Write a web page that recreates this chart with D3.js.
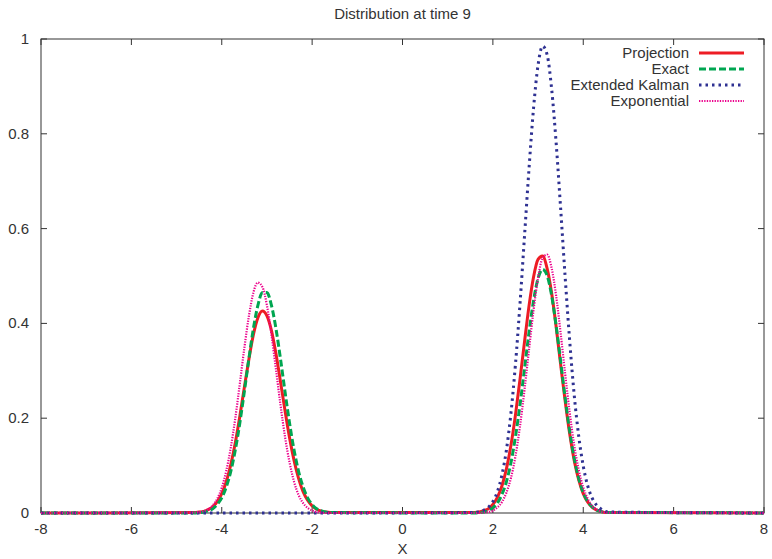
<!DOCTYPE html>
<html>
<head>
<meta charset="utf-8">
<script src="https://cdn.jsdelivr.net/npm/d3@7"></script>
<style>
  body { margin: 0; background: #fff; }
  text { font-family: "Liberation Sans", Arial, sans-serif; fill: #333; }
</style>
</head>
<body>
<div id="chart"></div>
<script>
// x grid around the two modes (step 0.1)
var xLeft = [-4.6, -4.5, -4.4, -4.3, -4.2, -4.1, -4.0, -3.9, -3.8, -3.7, -3.6, -3.5, -3.4, -3.3, -3.2, -3.1,
             -3.0, -2.9, -2.8, -2.7, -2.6, -2.5, -2.4, -2.3, -2.2, -2.1, -2.0, -1.9, -1.8, -1.7, -1.6];
var xRight = [1.6, 1.7, 1.8, 1.9, 2.0, 2.1, 2.2, 2.3, 2.4, 2.5, 2.6, 2.7, 2.8, 2.9, 3.0, 3.1,
              3.2, 3.3, 3.4, 3.5, 3.6, 3.7, 3.8, 3.9, 4.0, 4.1, 4.2, 4.3, 4.4, 4.5, 4.6];

var projLeft = [0.001, 0.002, 0.003, 0.007, 0.013, 0.024, 0.041, 0.066, 0.102, 0.148, 0.204, 0.265, 0.324, 0.376, 0.412, 0.426,
                0.416, 0.385, 0.336, 0.277, 0.216, 0.159, 0.111, 0.073, 0.045, 0.027, 0.015, 0.008, 0.004, 0.002, 0.001];
var projRight = [0.001, 0.002, 0.005, 0.009, 0.018, 0.033, 0.057, 0.093, 0.143, 0.207, 0.282, 0.361, 0.437, 0.498, 0.535, 0.542,
                 0.516, 0.464, 0.393, 0.313, 0.236, 0.167, 0.111, 0.070, 0.041, 0.023, 0.012, 0.006, 0.003, 0.001, 0.001];

var exactLeft = [0.000, 0.001, 0.002, 0.005, 0.009, 0.018, 0.032, 0.055, 0.088, 0.133, 0.190, 0.256, 0.325, 0.389, 0.438, 0.465,
                 0.465, 0.438, 0.389, 0.325, 0.256, 0.190, 0.133, 0.088, 0.055, 0.032, 0.018, 0.009, 0.005, 0.002, 0.001];
var exactRight = [0.000, 0.001, 0.002, 0.005, 0.011, 0.021, 0.039, 0.066, 0.106, 0.161, 0.228, 0.304, 0.381, 0.448, 0.495, 0.514,
                  0.501, 0.459, 0.395, 0.320, 0.243, 0.173, 0.116, 0.073, 0.043, 0.024, 0.013, 0.006, 0.003, 0.001, 0.001];

var ekfLeft = [0, 0, 0, 0, 0, 0, 0, 0, 0, 0, 0, 0, 0, 0, 0, 0,
               0, 0, 0, 0, 0, 0, 0, 0, 0, 0, 0, 0, 0, 0, 0];
var ekfRight = [0.001, 0.003, 0.006, 0.012, 0.024, 0.045, 0.080, 0.133, 0.211, 0.314, 0.441, 0.584, 0.727, 0.854, 0.945, 0.985,
                0.967, 0.895, 0.781, 0.642, 0.497, 0.363, 0.249, 0.162, 0.099, 0.057, 0.031, 0.016, 0.008, 0.003, 0.002];

var expoLeft = [0.001, 0.002, 0.004, 0.008, 0.016, 0.030, 0.053, 0.089, 0.138, 0.200, 0.273, 0.348, 0.415, 0.465, 0.486, 0.477,
                0.438, 0.376, 0.303, 0.228, 0.161, 0.107, 0.066, 0.038, 0.021, 0.011, 0.005, 0.002, 0.001, 0.000, 0.000];
var expoRight = [0.000, 0.000, 0.001, 0.002, 0.005, 0.012, 0.023, 0.043, 0.074, 0.120, 0.183, 0.260, 0.345, 0.428, 0.496, 0.538,
                 0.545, 0.517, 0.458, 0.379, 0.293, 0.212, 0.143, 0.091, 0.054, 0.030, 0.015, 0.007, 0.003, 0.001, 0.001];

var seriesNames = ["Projection", "Exact", "Extended Kalman", "Exponential"];
var xTicks = [-8, -6, -4, -2, 0, 2, 4, 6, 8];
var yTicks = [0, 0.2, 0.4, 0.6, 0.8, 1];

// styles for each series
var styles = [
  {color: "#ed1c24", width: 3, dash: null},
  {color: "#00a651", width: 3, dash: "7,3"},
  {color: "#2e3192", width: 3, dash: "2.5,4"},
  {color: "#ec008c", width: 2.2, dash: "1.3,1.3"}
];

var W = 772, H = 559;
var margin = {top: 39, right: 8, bottom: 46, left: 41},
    width = W - margin.left - margin.right,
    height = H - margin.top - margin.bottom;

var svg = d3.select("#chart").append("svg")
    .attr("width", W)
    .attr("height", H);

var g = svg.append("g")
    .attr("transform", "translate(" + margin.left + "," + margin.top + ")");

var x = d3.scaleLinear().domain([-8, 8]).range([0, width]);
var y = d3.scaleLinear().domain([0, 1]).range([height, 0]);

function buildSeries(left, right) {
  var pts = [[-8, 0]];
  xLeft.forEach(function(v, i) { pts.push([v, left[i]]); });
  xRight.forEach(function(v, i) { pts.push([v, right[i]]); });
  pts.push([8, 0]);
  return pts;
}

var series = [
  buildSeries(projLeft, projRight),
  buildSeries(exactLeft, exactRight),
  buildSeries(ekfLeft, ekfRight),
  buildSeries(expoLeft, expoRight)
];

// ticks, mirrored on all four sides, pointing inward
var tickLen = 6;
var frame = g.append("g").attr("stroke", "#333").attr("stroke-width", 1);
xTicks.forEach(function(t) {
  frame.append("line").attr("x1", x(t)).attr("x2", x(t)).attr("y1", height).attr("y2", height - tickLen);
  frame.append("line").attr("x1", x(t)).attr("x2", x(t)).attr("y1", 0).attr("y2", tickLen);
});
yTicks.forEach(function(t) {
  frame.append("line").attr("x1", 0).attr("x2", tickLen).attr("y1", y(t)).attr("y2", y(t));
  frame.append("line").attr("x1", width).attr("x2", width - tickLen).attr("y1", y(t)).attr("y2", y(t));
});
frame.append("rect")
    .attr("x", 0).attr("y", 0)
    .attr("width", width).attr("height", height)
    .attr("fill", "none");

// tick labels
g.selectAll(".xlab").data(xTicks).enter().append("text")
    .attr("x", function(d) { return x(d); })
    .attr("y", height + 21)
    .attr("text-anchor", "middle")
    .style("font-size", "15px")
    .text(function(d) { return d; });

g.selectAll(".ylab").data(yTicks).enter().append("text")
    .attr("x", -12)
    .attr("y", function(d) { return y(d) + 5; })
    .attr("text-anchor", "end")
    .style("font-size", "15px")
    .text(function(d) { return d; });

// curves
var line = d3.line()
    .x(function(d) { return x(d[0]); })
    .y(function(d) { return y(d[1]); })
    .curve(d3.curveMonotoneX);

g.selectAll(".curve").data(series).enter().append("path")
    .attr("class", "curve")
    .attr("d", line)
    .attr("fill", "none")
    .attr("stroke", function(d, i) { return styles[i].color; })
    .attr("stroke-width", function(d, i) { return styles[i].width; })
    .attr("stroke-dasharray", function(d, i) { return styles[i].dash; });

// legend
var legend = g.append("g").attr("transform", "translate(" + (width - 75) + ",14)");
seriesNames.forEach(function(name, i) {
  var row = legend.append("g").attr("transform", "translate(0," + (i * 16) + ")");
  row.append("text")
      .attr("x", 0)
      .attr("y", 5)
      .attr("text-anchor", "end")
      .style("font-size", "15px")
      .text(name);
  row.append("line")
      .attr("x1", 10).attr("x2", 55)
      .attr("y1", 0).attr("y2", 0)
      .attr("stroke", styles[i].color)
      .attr("stroke-width", styles[i].width)
      .attr("stroke-dasharray", styles[i].dash);
});

// title and axis label
svg.append("text")
    .attr("x", margin.left + width / 2)
    .attr("y", 19)
    .attr("text-anchor", "middle")
    .style("font-size", "15px")
    .text("Distribution at time 9");

svg.append("text")
    .attr("x", margin.left + width / 2)
    .attr("y", H - 5)
    .attr("text-anchor", "middle")
    .style("font-size", "15px")
    .text("X");
</script>
</body>
</html>
